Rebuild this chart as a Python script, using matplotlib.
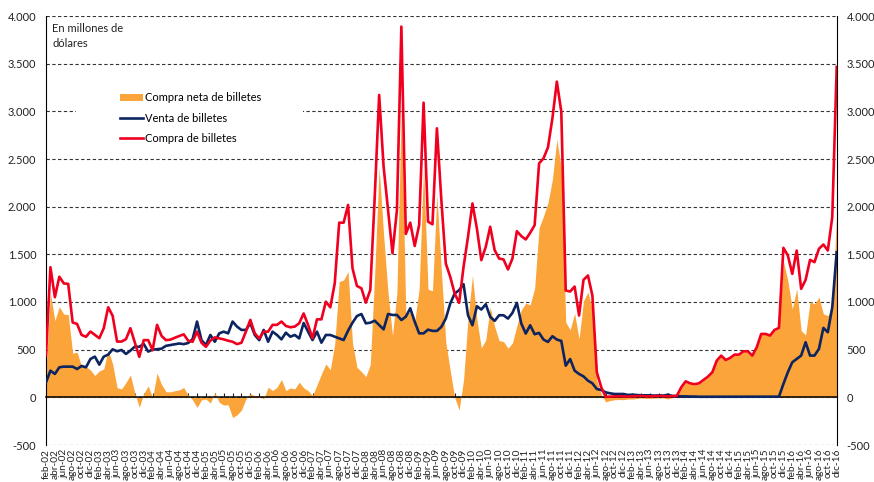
import numpy as np
import matplotlib
matplotlib.use("Agg")
import matplotlib.pyplot as plt
from matplotlib.patches import Rectangle
from matplotlib.ticker import FuncFormatter

# Monthly values, feb-02 .. dic-16 (millones de dólares)
compra = [
    440, 1365, 1050, 1265, 1195, 1190, 785, 770, 655, 635,
    690, 655, 620, 725, 945, 855, 585, 585, 610, 725,
    575, 425, 600, 600, 495, 760, 645, 600, 605, 625,
    643, 661, 594, 583, 689, 573, 530, 594, 629, 618,
    608, 594, 583, 558, 573, 689, 813, 671, 618, 689,
    689, 760, 760, 795, 749, 735, 742, 777, 880, 759,
    619, 818, 818, 1004, 944, 1196, 1832, 1832, 2018, 1353,
    1168, 1144, 993, 1126, 2100, 3172, 2420, 1965, 1511, 1965,
    3889, 1714, 1832, 1588, 1808, 3091, 1843, 1815, 2822, 2069,
    1404, 1264, 1089, 991, 1369, 1684, 2034, 1771, 1439, 1579,
    1789, 1544, 1456, 1446, 1341, 1456, 1743, 1691, 1656, 1726,
    1806, 2454, 2507, 2622, 2927, 3312, 2997, 1120, 1110, 1162,
    858, 1232, 1278, 1068, 263, 105, 5, 8, 10, 12,
    10, 8, 10, 12, 15, 10, 10, 12, 15, 12,
    10, 12, 15, 105, 168, 147, 138, 147, 182, 217,
    263, 385, 438, 392, 413, 448, 448, 483, 483, 438,
    525, 665, 665, 648, 707, 728, 1568, 1488, 1295, 1540,
    1138, 1232, 1442, 1418, 1558, 1603, 1540, 1890, 3466,
]

venta = [
    157, 280, 245, 315, 322, 322, 322, 297, 329, 315,
    402, 427, 343, 427, 448, 504, 483, 497, 455, 490,
    532, 530, 560, 480, 500, 505, 510, 540, 548, 555,
    565, 558, 570, 610, 795, 600, 548, 654, 583, 671,
    689, 671, 795, 742, 707, 707, 777, 654, 600, 707,
    583, 689, 654, 608, 678, 636, 654, 618, 780, 689,
    601, 689, 573, 654, 654, 636, 619, 601, 699, 783,
    853, 874, 776, 783, 804, 759, 713, 874, 864, 864,
    811, 846, 934, 794, 671, 671, 710, 697, 697, 739,
    826, 984, 1089, 1124, 1187, 861, 756, 956, 921, 977,
    844, 802, 861, 861, 826, 886, 991, 774, 669, 756,
    662, 676, 606, 581, 641, 606, 592, 332, 402, 280,
    245, 220, 175, 147, 87, 77, 52, 42, 35, 35,
    35, 25, 28, 25, 21, 21, 21, 18, 21, 18,
    28, 14, 14, 10, 10, 8, 8, 6, 6, 5,
    5, 5, 5, 5, 5, 5, 5, 5, 5, 5,
    5, 5, 5, 5, 5, 7, 140, 263, 368, 403,
    438, 578, 438, 438, 508, 728, 683, 945, 1523,
]

meses = ["ene", "feb", "mar", "abr", "may", "jun",
         "jul", "ago", "sep", "oct", "nov", "dic"]

compra = np.array(compra, dtype=float)
venta = np.array(venta, dtype=float)
neta = compra - venta
x = np.arange(len(compra))

# category labels feb-02 ... dic-16
labels = []
for i in x:
    m = (1 + i) % 12
    y = 2 + (1 + i) // 12
    labels.append(f"{meses[m]}-{y:02d}")

plt.rcParams['font.family'] = ['Lato', 'DejaVu Sans']

fig = plt.figure(figsize=(8.74, 4.82), dpi=100)
ax = fig.add_axes([46 / 874, 1 - 445 / 482, 790.7 / 874, 429 / 482])

orange = '#FBA43A'
navy = '#0C2460'
red = '#F0001E'

ax.fill_between(x, 0, neta, color=orange, linewidth=0, zorder=2,
                label='Compra neta de billetes')
ax.plot(x, venta, color=navy, lw=1.9, zorder=3, label='Venta de billetes')
ax.plot(x, compra, color=red, lw=1.9, zorder=4, label='Compra de billetes')

ax.set_xlim(0, len(x) - 1)
ax.set_ylim(-500, 4000)
ax.set_yticks(np.arange(-500, 4001, 500))
ax.yaxis.set_major_formatter(FuncFormatter(lambda v, p: f"{int(v):,}".replace(",", ".")))
ax.grid(axis='y', color='#333333', lw=0.8, linestyle=(0, (3, 2.2)))
ax.set_axisbelow(True)
ax.tick_params(axis='y', length=0, labelsize=8, pad=7, labelright=True,
               colors='#222222')

# x ticks every two months; tick_params first, since changing pad resets the ticks
ax.tick_params(axis='x', direction='in', length=3, width=0.8, pad=37,
               colors='#222222', labelsize=7.3, labelrotation=90)
ax.set_xticks(x[::2])
ax.set_xticklabels(labels[::2])
for t in ax.get_xticklabels():
    t.set_va('top')

ax.spines['top'].set_visible(False)
ax.spines['bottom'].set_position(('data', 0))
ax.spines['bottom'].set_linewidth(1.1)
for s in ['left', 'right', 'bottom']:
    ax.spines[s].set_color('black')

# white area behind the legend (hides grid line)
ax.add_patch(Rectangle(((76 - 46) / 790.7, (445 - 147) / 429),
                       (303 - 76) / 790.7, (147 - 85) / 429,
                       transform=ax.transAxes, facecolor='white',
                       edgecolor='none', zorder=1.5))

ax.legend(loc='upper left', bbox_to_anchor=((116 - 46) / 790.7, (445 - 88) / 429),
          frameon=False, fontsize=8, handlelength=2.0, handletextpad=0.2,
          labelspacing=0.85, borderaxespad=0)

ax.text(0.008, 0.984, "En millones de\ndólares", transform=ax.transAxes,
        fontsize=8, va='top', ha='left', linespacing=1.5, color='#222222')

fig.savefig("out.png", dpi=100)
